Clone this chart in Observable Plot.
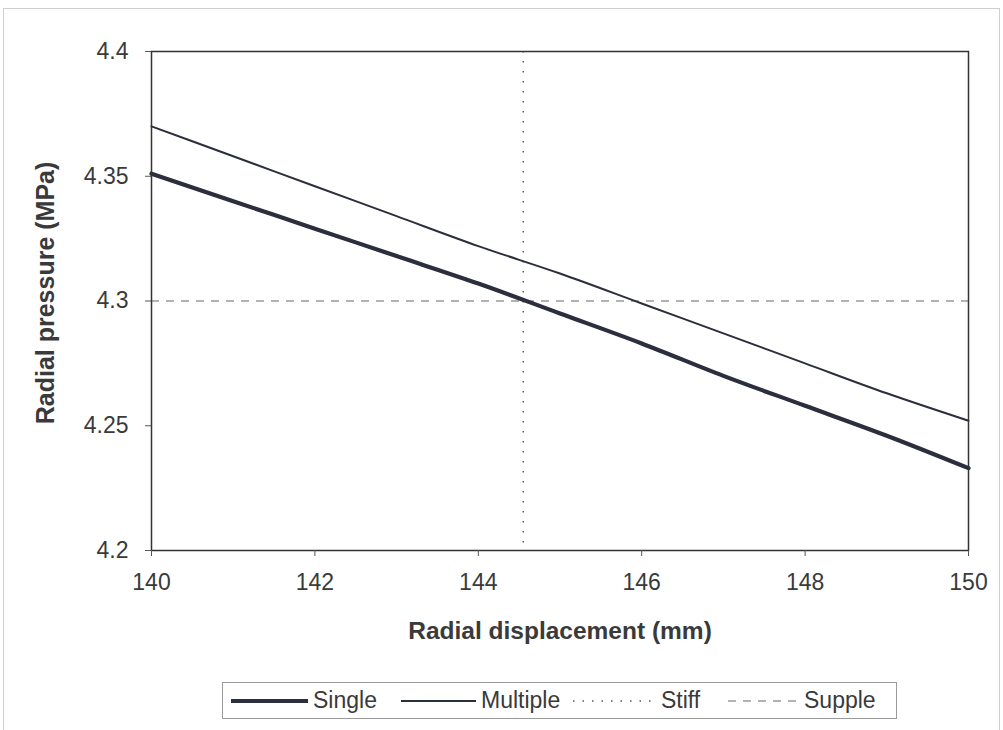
<!DOCTYPE html>
<html>
<head>
<meta charset="utf-8">
<script src="https://cdn.jsdelivr.net/npm/d3@7"></script>
<script src="https://cdn.jsdelivr.net/npm/@observablehq/plot@0.6"></script>
<style>
  body { margin: 0; background: #fff; font-family: "Liberation Sans", Arial, sans-serif; }
  #page { position: relative; width: 1003px; height: 730px; overflow: hidden; }
  #outer { position: absolute; left: 3px; top: 8px; width: 995px; height: 725px; border: 1px solid #cfcfcf; }
  #chart { position: absolute; left: 0; top: 0; }
  #legend { position: absolute; left: 222px; top: 682px; width: 673px; height: 35px; border: 1px solid #9a9a9a; background: #fff; }
  #legend .sample { position: absolute; top: 0; }
  #legend .label { position: absolute; top: 4px; font-size: 23px; color: #3a3a3a; line-height: 26px; }
</style>
</head>
<body>
<div id="page">
  <div id="outer"></div>
  <div id="chart"></div>
  <div id="legend"></div>
</div>
<script>
// Radial displacement (mm)
const displacement = [140, 141, 142, 143, 144, 145, 146, 147, 148, 149, 150];
// Radial pressure (MPa) for each model
const singlePressure   = [4.351, 4.340, 4.329, 4.318, 4.307, 4.295, 4.283, 4.270, 4.258, 4.246, 4.233];
const multiplePressure = [4.370, 4.358, 4.346, 4.334, 4.322, 4.311, 4.299, 4.287, 4.275, 4.263, 4.252];
// Reference lines
const stiffDisplacement = 144.55;
const supplePressure = 4.3;
// Axis ticks
const xTicks = [140, 142, 144, 146, 148, 150];
const yTicks = [4.2, 4.25, 4.3, 4.35, 4.4];
// Legend entries
const legendNames = ["Single", "Multiple", "Stiff", "Supple"];

const lineColor = "#2b2e3d";
const singleRows = displacement.map((x, i) => ({x, y: singlePressure[i]}));
const multipleRows = displacement.map((x, i) => ({x, y: multiplePressure[i]}));

const chart = Plot.plot({
  width: 1003,
  height: 665,
  marginLeft: 151,
  marginRight: 35,
  marginTop: 51,
  marginBottom: 115,
  x: {domain: [140, 150]},
  y: {domain: [4.2, 4.4]},
  style: {fontFamily: "'Liberation Sans', Arial, sans-serif", fontSize: "22px", color: "#3a3a3a", background: "transparent", overflow: "visible"},
  marks: [
    Plot.ruleX([stiffDisplacement], {stroke: "#555", strokeWidth: 1.4, strokeDasharray: "1.5,8.5"}),
    Plot.ruleY([supplePressure], {stroke: "#666", strokeWidth: 1.2, strokeDasharray: "8,7"}),
    Plot.line(multipleRows, {x: "x", y: "y", stroke: lineColor, strokeWidth: 2, curve: "monotone-x"}),
    Plot.line(singleRows, {x: "x", y: "y", stroke: lineColor, strokeWidth: 4.2, curve: "monotone-x"}),
    Plot.frame({stroke: "#333", strokeWidth: 1.5}),
    Plot.axisX({ticks: xTicks, tickSize: 6, tickPadding: 17, label: null, stroke: "#555", fontSize: 23}),
    Plot.axisY({ticks: yTicks, tickSize: 6, tickPadding: 17, label: null, stroke: "#555", fontSize: 23, tickFormat: d => String(d)}),
    Plot.text(["Radial displacement (mm)"], {text: d => d, frameAnchor: "bottom", dy: 88, fontWeight: "bold", fontSize: 24.5, fill: "#3a3a3a"}),
    Plot.text(["Radial pressure (MPa)"], {text: d => d, frameAnchor: "left", textAnchor: "middle", dx: -106, dy: -8, rotate: -90, fontWeight: "bold", fontSize: 25, fill: "#3a3a3a"})
  ]
});
document.getElementById("chart").appendChild(chart);

// Legend: line samples matching the marks above
const legendStyles = [
  {width: 4.2, dash: null, color: lineColor, left: 8, len: 77, textLeft: 90},
  {width: 2, dash: null, color: lineColor, left: 178, len: 75, textLeft: 258},
  {width: 1.6, dash: "1.5,8", color: "#555", left: 350, len: 78, textLeft: 438},
  {width: 1.2, dash: "8,7", color: "#666", left: 505, len: 70, textLeft: 581}
];
const legend = document.getElementById("legend");
legendNames.forEach((name, i) => {
  const s = legendStyles[i];
  const svg = d3.create("svg").attr("class", "sample")
    .attr("width", s.len).attr("height", 35)
    .style("left", s.left + "px");
  svg.append("line")
    .attr("x1", 0).attr("x2", s.len).attr("y1", 18).attr("y2", 18)
    .attr("stroke", s.color).attr("stroke-width", s.width)
    .attr("stroke-dasharray", s.dash);
  legend.appendChild(svg.node());
  const label = document.createElement("div");
  label.className = "label";
  label.style.left = s.textLeft + "px";
  label.textContent = name;
  legend.appendChild(label);
});
</script>
</body>
</html>
